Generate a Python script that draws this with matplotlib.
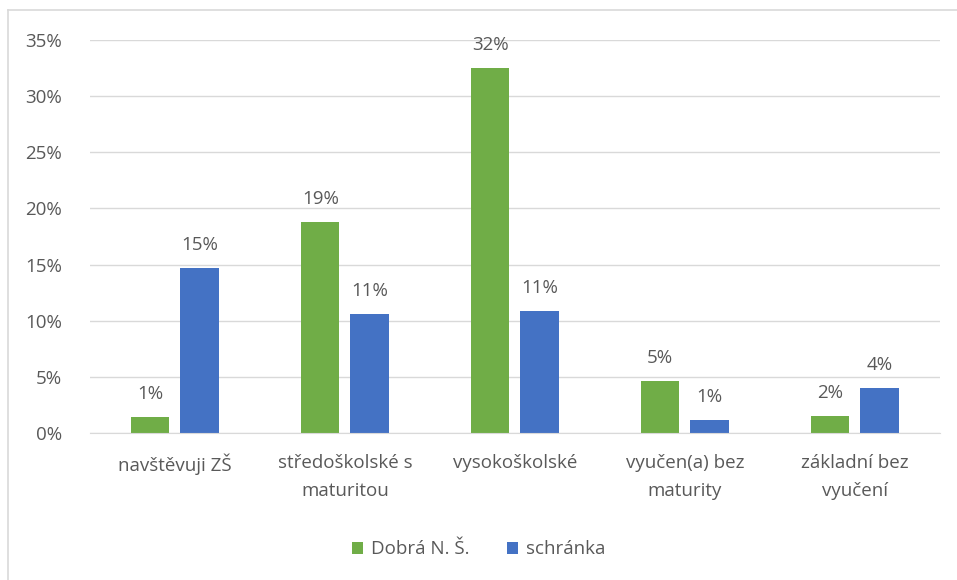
import matplotlib
matplotlib.use("Agg")
import matplotlib.pyplot as plt
from matplotlib.lines import Line2D
import numpy as np

categories = ["navštěvuji ZŠ", "středoškolské s\nmaturitou", "vysokoškolské",
              "vyučen(a) bez\nmaturity", "základní bez\nvyučení"]
series_names = ["Dobrá N. Š.", "schránka"]
dobra = [0.014, 0.188, 0.325, 0.046, 0.015]
schranka = [0.147, 0.106, 0.109, 0.012, 0.040]
colors = ["#70AD47", "#4472C4"]
yticks = [0, 0.05, 0.10, 0.15, 0.20, 0.25, 0.30, 0.35]

plt.rcParams['font.family'] = ['Open Sans', 'DejaVu Sans']
txt = "#595959"
fs = 13.5

fig = plt.figure(figsize=(9.57, 5.8), dpi=100)
ax = fig.add_axes([0.094, 0.2534, 0.888, 0.6776])

x = np.arange(len(categories))
w = 0.225
off = 0.145
b1 = ax.bar(x - off, dobra, w, color=colors[0], label=series_names[0])
b2 = ax.bar(x + off, schranka, w, color=colors[1], label=series_names[1])
for bars, vals in ((b1, dobra), (b2, schranka)):
    for r, v in zip(bars, vals):
        ax.annotate(f"{round(v*100):.0f}%", (r.get_x() + r.get_width()/2, v),
                    xytext=(0, 10), textcoords="offset points", ha="center", va="bottom",
                    fontsize=fs, color=txt)

ax.set_xlim(-0.5, len(categories) - 0.5)
ax.set_ylim(0, 0.35)
ax.set_yticks(yticks)
ax.set_yticklabels([f"{round(t*100):.0f}%" for t in yticks])
ax.set_xticks(x)
ax.set_xticklabels(categories, linespacing=1.7)
ax.tick_params(axis="both", length=0, labelsize=fs, colors=txt)
ax.tick_params(axis="y", pad=20)
ax.tick_params(axis="x", pad=15)
ax.grid(axis="y", color="#D9D9D9", linewidth=1)
ax.set_axisbelow(True)
for s in ["top", "right", "left"]:
    ax.spines[s].set_visible(False)
ax.spines["bottom"].set_color("#D9D9D9")

leg = fig.legend(handles=[b1, b2], loc="center", bbox_to_anchor=(0.5, 0.053), ncol=2,
                 frameon=False, fontsize=fs, handlelength=0.6, handleheight=0.6,
                 columnspacing=2.0, handletextpad=0.4)
for t in leg.get_texts():
    t.set_color(txt)

fig.add_artist(Line2D([8/957, 1], [1 - 10/580, 1 - 10/580], color="#D9D9D9", lw=1.2,
                      transform=fig.transFigure))
fig.add_artist(Line2D([8/957, 8/957], [0, 1 - 10/580], color="#D9D9D9", lw=1.2,
                      transform=fig.transFigure))

fig.savefig("out.png", dpi=100)
